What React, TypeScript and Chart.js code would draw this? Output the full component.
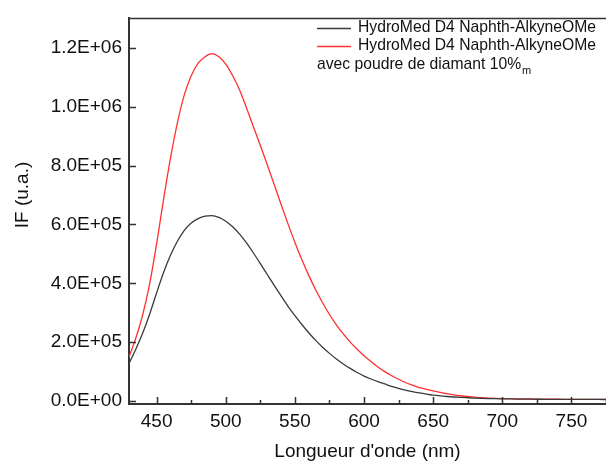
import React, { useEffect, useRef } from "react";
import { Chart, registerables } from "chart.js";

Chart.register(...registerables);

const wavelengths = [
  430, 435, 440, 445, 450, 455, 460, 465, 470, 475, 480, 485, 490, 495, 500, 505, 510, 515, 520, 525,
  530, 535, 540, 545, 550, 555, 560, 565, 570, 575, 580, 585, 590, 595, 600, 605, 610, 615, 620, 625,
  630, 635, 640, 645, 650, 655, 660, 665, 670, 675, 680, 685, 690, 695, 700, 705, 710, 715, 720, 725,
  730, 735, 740, 745, 750, 755, 760, 765, 770, 775,
];

const seriesPlain = [
  1.27e5, 1.77e5, 2.32e5, 2.96e5, 3.68e5, 4.37e5, 4.95e5, 5.43e5, 5.8e5, 6.05e5, 6.2e5, 6.28e5, 6.3e5, 6.24e5, 6.11e5, 5.92e5, 5.67e5, 5.37e5, 5.03e5, 4.67e5,
  4.3e5, 3.93e5, 3.57e5, 3.22e5, 2.9e5, 2.6e5, 2.32e5, 2.06e5, 1.83e5, 1.62e5, 1.43e5, 1.26e5, 1.11e5, 9.7e4, 8.5e4, 7.5e4, 6.6e4, 5.8e4, 5.0e4, 4.3e4,
  3.7e4, 3.2e4, 2.75e4, 2.35e4, 2.0e4, 1.75e4, 1.55e4, 1.38e4, 1.23e4, 1.12e4, 1.02e4, 9.3e3, 8.6e3, 8.0e3, 7.5e3, 7.2e3, 6.9e3, 6.6e3, 6.4e3, 6.2e3,
  6.0e3, 5.9e3, 5.8e3, 5.7e3, 5.6e3, 5.5e3, 5.5e3, 5.4e3, 5.4e3, 5.3e3,
];

const seriesDiamond = [
  1.5e5, 2.15e5, 2.95e5, 4.0e5, 5.35e5, 6.85e5, 8.25e5, 9.45e5, 1.04e6, 1.105e6, 1.148e6, 1.17e6, 1.18e6, 1.17e6, 1.145e6, 1.105e6, 1.057e6, 9.96e5, 9.32e5, 8.68e5,
  8.03e5, 7.36e5, 6.68e5, 6.02e5, 5.39e5, 4.81e5, 4.27e5, 3.78e5, 3.34e5, 2.94e5, 2.59e5, 2.28e5, 2.0e5, 1.76e5, 1.54e5, 1.34e5, 1.16e5, 1.0e5, 8.6e4, 7.4e4,
  6.3e4, 5.4e4, 4.6e4, 4.0e4, 3.45e4, 2.95e4, 2.5e4, 2.1e4, 1.8e4, 1.55e4, 1.35e4, 1.15e4, 1.0e4, 9.2e3, 8.6e3, 8.1e3, 7.7e3, 7.3e3, 7.0e3, 6.7e3,
  6.5e3, 6.3e3, 6.1e3, 6.0e3, 5.9e3, 5.8e3, 5.7e3, 5.7e3, 5.6e3, 5.6e3,
];

const xMajorTicks = [450, 500, 550, 600, 650, 700, 750];
const xMinorTicks = [475, 525, 575, 625, 675, 725, 775];
const yTickValues = [0, 2e5, 4e5, 6e5, 8e5, 1e6, 1.2e6];
const yTickLabels = ["0.0E+00", "2.0E+05", "4.0E+05", "6.0E+05", "8.0E+05", "1.0E+06", "1.2E+06"];

const xTitle = "Longueur d'onde (nm)";
const yTitle = "IF (u.a.)";
const legendName1 = "HydroMed D4 Naphth-AlkyneOMe";
const legendName2a = "HydroMed D4 Naphth-AlkyneOMe";
const legendName2b = "avec poudre de diamant 10%";
const legendName2sub = "m";

const colorPlain = "#3a3a3a";
const colorDiamond = "#ff3030";
const axisColor = "#333333";
const FONT = "'Liberation Sans', Arial, sans-serif";

const decorPlugin = {
  id: "decor",
  afterDraw(chart: any) {
    const { ctx, chartArea, scales } = chart;
    const { left, right, top, bottom } = chartArea;
    const x = scales.x;
    const y = scales.y;
    ctx.save();
    ctx.strokeStyle = axisColor;
    ctx.lineWidth = 1.5;
    ctx.beginPath();
    ctx.moveTo(left - 1, top);
    ctx.lineTo(right, top);
    ctx.stroke();
    ctx.beginPath();
    xMajorTicks.forEach((v) => {
      const px = Math.round(x.getPixelForValue(v)) + 0.5;
      ctx.moveTo(px, bottom);
      ctx.lineTo(px, bottom - 7);
    });
    xMinorTicks.forEach((v) => {
      const px = Math.round(x.getPixelForValue(v)) + 0.5;
      ctx.moveTo(px, bottom);
      ctx.lineTo(px, bottom - 4);
    });
    yTickValues.forEach((v) => {
      const py = Math.round(y.getPixelForValue(v)) + 0.5;
      ctx.moveTo(left, py);
      ctx.lineTo(left + 7, py);
    });
    ctx.stroke();

    // y axis title
    ctx.save();
    ctx.translate(23, 195);
    ctx.rotate(-Math.PI / 2);
    ctx.fillStyle = "#111";
    ctx.font = `19px ${FONT}`;
    ctx.textAlign = "center";
    ctx.textBaseline = "middle";
    ctx.fillText(yTitle, 0, 0);
    ctx.restore();

    // legend
    const lx0 = 317;
    const lx1 = 351;
    const tx = 358;
    const rows = [28, 46, 65];
    ctx.lineWidth = 1.3;
    ctx.strokeStyle = colorPlain;
    ctx.beginPath();
    ctx.moveTo(lx0, rows[0] + 0.5);
    ctx.lineTo(lx1, rows[0] + 0.5);
    ctx.stroke();
    ctx.strokeStyle = colorDiamond;
    ctx.beginPath();
    ctx.moveTo(lx0, rows[1] + 0.5);
    ctx.lineTo(lx1, rows[1] + 0.5);
    ctx.stroke();
    ctx.fillStyle = "#111";
    ctx.font = `15.7px ${FONT}`;
    ctx.textBaseline = "middle";
    ctx.textAlign = "left";
    ctx.fillText(legendName1, tx, rows[0]);
    ctx.fillText(legendName2a, tx, rows[1]);
    const t3x = 317;
    ctx.fillText(legendName2b, t3x, rows[2]);
    const w = ctx.measureText(legendName2b).width;
    ctx.font = `11px ${FONT}`;
    ctx.fillText(legendName2sub, t3x + w + 1, rows[2] + 6);
    ctx.restore();
  },
};

export default function App() {
  const canvasRef = useRef<HTMLCanvasElement | null>(null);

  useEffect(() => {
    document.body.style.margin = "0";
    const canvas = canvasRef.current;
    if (!canvas) return;
    const chart = new Chart(canvas, {
      type: "line",
      data: {
        datasets: [
          {
            label: legendName1,
            data: wavelengths.map((w, i) => ({ x: w, y: seriesPlain[i] })),
            borderColor: colorPlain,
            borderWidth: 1.3,
            pointRadius: 0,
            cubicInterpolationMode: "monotone",
            fill: false,
          },
          {
            label: legendName2a,
            data: wavelengths.map((w, i) => ({ x: w, y: seriesDiamond[i] })),
            borderColor: colorDiamond,
            borderWidth: 1.3,
            pointRadius: 0,
            cubicInterpolationMode: "monotone",
            fill: false,
          },
        ],
      },
      options: {
        responsive: false,
        animation: false,
        events: [],
        layout: { padding: { top: 11, right: 0, left: 0, bottom: 0 } },
        plugins: {
          legend: { display: false },
          tooltip: { enabled: false },
        },
        scales: {
          x: {
            type: "linear",
            min: 430,
            max: 775,
            grid: { display: false, drawTicks: false },
            border: { display: true, color: axisColor, width: 2 },
            afterBuildTicks: (scale: any) => {
              scale.ticks = xMajorTicks.map((v) => ({ value: v }));
            },
            afterFit: (scale: any) => {
              scale.height = 59;
            },
            ticks: {
              color: "#111",
              font: { family: FONT, size: 19 },
              padding: 6,
              maxRotation: 0,
              autoSkip: false,
              callback: (v: any) => String(v),
            },
            title: {
              display: true,
              text: xTitle,
              color: "#111",
              font: { family: FONT, size: 19 },
              padding: { top: 0, bottom: 0 },
            },
          },
          y: {
            type: "linear",
            min: -1e4,
            max: 1.3e6,
            grid: { display: false, drawTicks: false },
            border: { display: true, color: axisColor, width: 2 },
            afterBuildTicks: (scale: any) => {
              scale.ticks = yTickValues.map((v) => ({ value: v }));
            },
            afterFit: (scale: any) => {
              scale.width = 129;
            },
            ticks: {
              color: "#111",
              font: { family: FONT, size: 19 },
              padding: 7,
              autoSkip: false,
              callback: (v: any) => {
                const i = yTickValues.indexOf(Number(v));
                return i >= 0 ? yTickLabels[i] : "";
              },
            },
            title: { display: false },
          },
        },
      },
      plugins: [decorPlugin],
    });
    return () => chart.destroy();
  }, []);

  return (
    <div style={{ width: 606, height: 463 }}>
      <canvas ref={canvasRef} width={606} height={463} style={{ display: "block" }} />
    </div>
  );
}
